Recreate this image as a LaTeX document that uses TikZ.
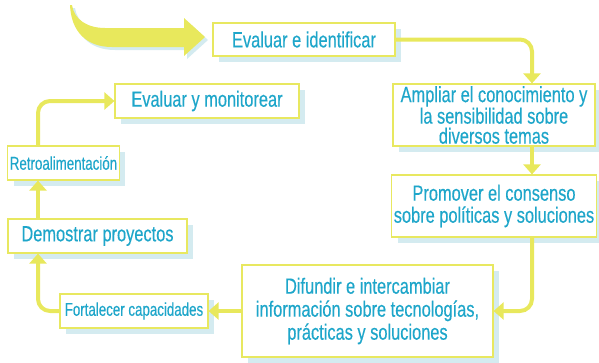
\documentclass[tikz,border=0pt]{standalone}
\usepackage{fontspec}
\setmainfont[FakeStretch=0.745,FakeBold=0.3]{Liberation Sans}
\newfontfamily\narrowfont[FakeStretch=0.72,FakeBold=0.3]{Liberation Sans}
\usetikzlibrary{arrows.meta,shadows,calc}
\definecolor{boxline}{RGB}{232,232,96}
\definecolor{linkcol}{RGB}{232,232,92}
\definecolor{txtcol}{RGB}{30,166,202}
\definecolor{shadecol}{RGB}{212,235,240}
\tikzset{
  box/.style={draw=boxline, line width=1.2pt, fill=white, text=txtcol,
    align=center, inner sep=2pt,
    drop shadow={shadow xshift=6pt, shadow yshift=-6pt, fill=shadecol, opacity=1},
    font=\fontsize{22}{22}\selectfont},
  smallbox/.style={box, font=\narrowfont\fontsize{18.5}{20}\selectfont},
  link/.style={draw=linkcol, line width=4pt, rounded corners=12pt,
    -{Triangle[width=17pt,length=10pt]}},
}
\begin{document}
\begin{tikzpicture}[x=1pt, y=-1pt]
  \useasboundingbox (0,0) rectangle (599,362);
  % entry swoosh
  \fill[shadecol] (73,8) .. controls (74,34) and (89,50) .. (115,50) -- (187,50) -- (187,59)
    -- (208,40) -- (187,21) -- (187,31) -- (108,31) .. controls (91,31) and (77,23) .. (75,8) -- cycle;
  \fill[linkcol] (70,5) .. controls (71,31) and (86,47) .. (112,47) -- (184,47) -- (184,56)
    -- (205,37) -- (184,18) -- (184,28) -- (105,28) .. controls (88,28) and (74,20) .. (72,5) -- cycle;
  % boxes
  \node[box, minimum width=182pt, minimum height=33pt] (evid) at (304,39.5) {Evaluar e identificar};
  \node[box, minimum width=202pt, minimum height=62pt, font=\fontsize{22}{20}\selectfont] (ampliar) at (494,115)
    {Ampliar el conocimiento y\\la sensibilidad sobre\\diversos temas};
  \node[box, minimum width=202pt, minimum height=62pt, font=\fontsize{22}{22}\selectfont] (promover) at (494,206)
    {Promover el consenso\\sobre políticas y soluciones};
  \node[box, minimum width=251pt, minimum height=92pt, font=\fontsize{22}{23}\selectfont] (difundir) at (367.5,311)
    {Difundir e intercambiar\\información sobre tecnologías,\\prácticas y soluciones};
  \node[smallbox, minimum width=148pt, minimum height=34pt] (fortalecer) at (134,311) {Fortalecer capacidades};
  \node[box, minimum width=179pt, minimum height=34pt] (demostrar) at (97.5,236) {Demostrar proyectos};
  \node[smallbox, minimum width=111pt, minimum height=34pt] (retro) at (63.5,163) {Retroalimentación};
  \node[box, minimum width=184pt, minimum height=34pt] (evmon) at (207,101) {Evaluar y monitorear};
  \coordinate (rightcol) at (532,0);
  \coordinate (leftcol) at (38,0);
  % connectors
  \draw[link] (evid.east) -| (rightcol |- ampliar.north);
  \draw[link] (rightcol |- ampliar.south) -- (rightcol |- promover.north);
  \draw[link] (rightcol |- promover.south) |- (difundir.east);
  \draw[link] (difundir.west) -- (fortalecer.east);
  \draw[link] (fortalecer.west) -| (leftcol |- demostrar.south);
  \draw[link] (leftcol |- demostrar.north) -- (leftcol |- retro.south);
  \draw[link] (leftcol |- retro.north) |- (evmon.west);
\end{tikzpicture}
\end{document}
